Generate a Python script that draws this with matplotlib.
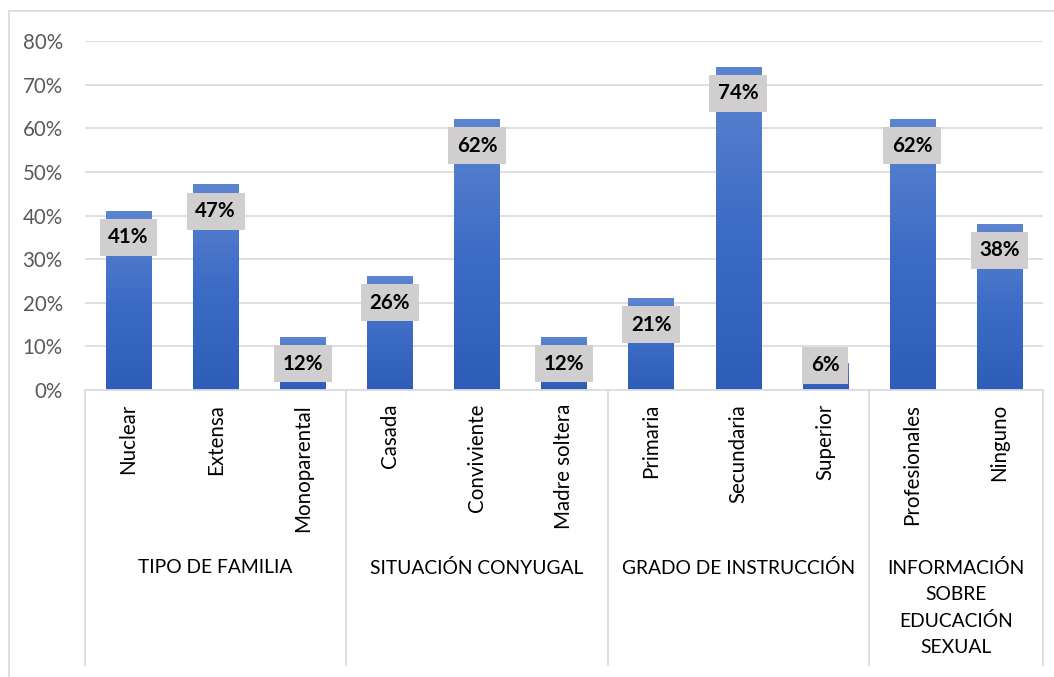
import matplotlib
matplotlib.use('Agg')
import matplotlib.pyplot as plt
import matplotlib.transforms as mtransforms
from matplotlib.colors import LinearSegmentedColormap
from matplotlib.lines import Line2D
import numpy as np

# Survey results, one bar per answer, grouped by question
categories = ['Nuclear', 'Extensa', 'Monoparental',
              'Casada', 'Conviviente', 'Madre soltera',
              'Primaria', 'Secundaria', 'Superior',
              'Profesionales', 'Ninguno']
values = [0.41, 0.47, 0.12, 0.26, 0.62, 0.12, 0.21, 0.74, 0.06, 0.62, 0.38]
groups = ['TIPO DE FAMILIA', 'SITUACIÓN CONYUGAL', 'GRADO DE INSTRUCCIÓN',
          'INFORMACIÓN\nSOBRE\nEDUCACIÓN\nSEXUAL']
group_sizes = [3, 3, 3, 2]
y_ticks = [0.0, 0.1, 0.2, 0.3, 0.4, 0.5, 0.6, 0.7, 0.8]

FONT = ['Lato', 'DejaVu Sans']
GRID = '#d9dde3'
FS = 14.8
plt.rcParams['font.family'] = FONT

W, H = 1054, 677
fig = plt.figure(figsize=(W / 100, H / 100), dpi=100, facecolor='white')
ax = fig.add_axes([85 / W, (H - 390) / H, (1043 - 85) / W, (390 - 41) / H])

x = np.arange(len(categories))
bar_w = 0.52
bars = ax.bar(x, values, width=bar_w, color='#4472c4', zorder=2)

# vertical gradient on every bar: lighter at the top, darker at the base
grad_cmap = LinearSegmentedColormap.from_list('blue_grad', ['#2e5db8', '#3d6cc6', '#5d84cf'])
grad = np.linspace(0, 1, 256).reshape(-1, 1)
for bar in bars:
    bx, by = bar.get_x(), bar.get_y()
    bw, bh = bar.get_width(), bar.get_height()
    bar.set_facecolor('none')
    ax.imshow(grad, cmap=grad_cmap, origin='lower', aspect='auto',
              extent=[bx, bx + bw, by, by + bh], zorder=2, interpolation='bicubic')

ax.set_xlim(-0.5, len(categories) - 0.5)
ax.set_ylim(0, 0.8)

# value labels in grey boxes at the inside end of each bar
for xi, v in zip(x, values):
    ax.text(xi, max(v - 0.06, 0.057), f'{v * 100:.0f}%', ha='center', va='center',
            fontsize=FS, fontweight='bold', color='black', zorder=4,
            bbox=dict(boxstyle='square,pad=0.42', facecolor='#d0cece', edgecolor='none'))

ax.set_yticks(y_ticks)
ax.set_yticklabels([f'{t * 100:.0f}%' for t in y_ticks], fontsize=FS, color='#595959')
ax.tick_params(axis='y', length=0, pad=16)
ax.yaxis.grid(True, color=GRID, linewidth=1.3, zorder=0)
ax.set_axisbelow(True)

ax.set_xticks(x)
ax.set_xticklabels(categories, rotation=90, va='top', ha='center', fontsize=FS, color='black')
ax.tick_params(axis='x', length=0, pad=10)

for s in ['left', 'right', 'top']:
    ax.spines[s].set_visible(False)
ax.spines['bottom'].set_color(GRID)
ax.spines['bottom'].set_linewidth(1.3)

# group separators and group names under the category labels
sep_tr = mtransforms.blended_transform_factory(ax.transData, fig.transFigure)
y_top = (H - 391) / H
y_bot = (H - 665) / H
edges = np.concatenate([[0], np.cumsum(group_sizes)]) - 0.5
for e in edges:
    fig.add_artist(Line2D([e, e], [y_top, y_bot], transform=sep_tr,
                          color=GRID, linewidth=1.3))
for g, lo, hi in zip(groups, edges[:-1], edges[1:]):
    fig.text((lo + hi) / 2, (H - 559) / H, g, transform=sep_tr, ha='center', va='top',
             fontsize=13.9, color='black', linespacing=1.62, multialignment='center')

# chart area border
fig.add_artist(Line2D([9 / W, 9 / W], [0, (H - 11) / H], color=GRID, linewidth=1.3))
fig.add_artist(Line2D([9 / W, 1], [(H - 11) / H, (H - 11) / H], color=GRID, linewidth=1.3))

fig.savefig('out.png', dpi=100, facecolor='white')
plt.close(fig)
